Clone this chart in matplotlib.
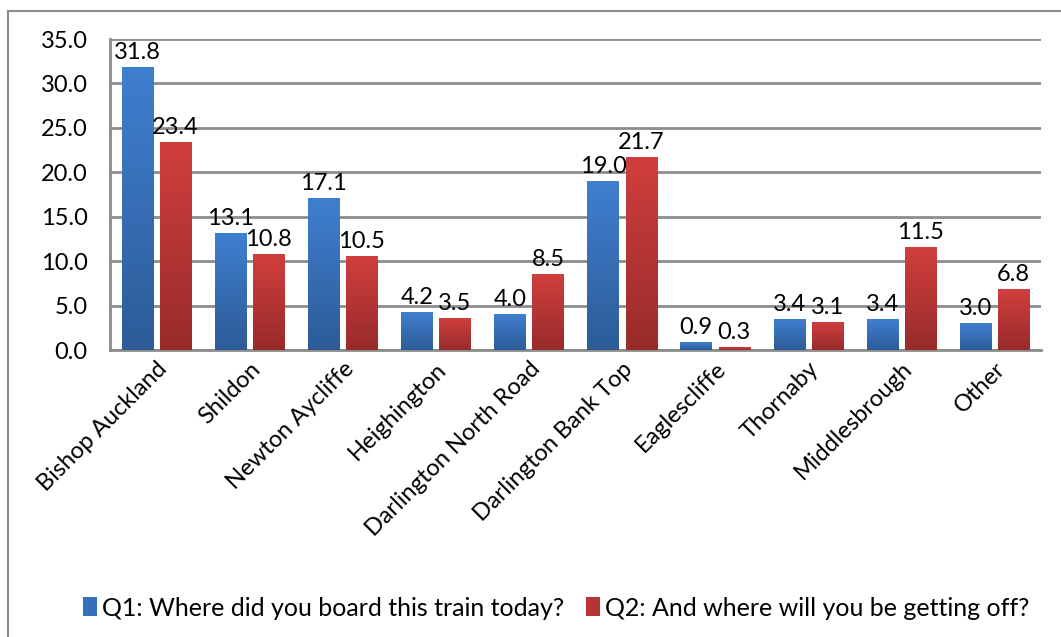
import numpy as np
import matplotlib.pyplot as plt
from matplotlib.colors import LinearSegmentedColormap
from matplotlib.patches import Patch
from matplotlib.lines import Line2D

plt.rcParams['font.family'] = ['Lato', 'DejaVu Sans']

stations = ["Bishop Auckland", "Shildon", "Newton Aycliffe", "Heighington",
            "Darlington North Road", "Darlington Bank Top", "Eaglescliffe",
            "Thornaby", "Middlesbrough", "Other"]
q1_board = [31.8, 13.1, 17.1, 4.2, 4.0, 19.0, 0.9, 3.4, 3.4, 3.0]
q2_alight = [23.4, 10.8, 10.5, 3.5, 8.5, 21.7, 0.3, 3.1, 11.5, 6.8]
series_names = ["Q1: Where did you board this train today?",
                "Q2: And where will you be getting off?"]

blue_cmap = LinearSegmentedColormap.from_list("b", ["#2d5c97", "#3f7fd0"])
red_cmap = LinearSegmentedColormap.from_list("r", ["#982b2b", "#d03f3d"])

fig = plt.figure(figsize=(10.61, 6.37), dpi=100)
ax = fig.add_axes([110 / 1061, 1 - 350 / 637, 931 / 1061, 311 / 637])

# outer chart frame (left and top edges visible)
fig.add_artist(Line2D([8 / 1061, 8 / 1061], [0, 1 - 11 / 637], color="#8c8c8c", lw=1.5,
                      transform=fig.transFigure))
fig.add_artist(Line2D([8 / 1061, 1], [1 - 11 / 637, 1 - 11 / 637], color="#8c8c8c", lw=1.5,
                      transform=fig.transFigure))

x = np.arange(len(stations))
width = 0.335
gap = 0.075
grad = np.linspace(0, 1, 256).reshape(-1, 1)


def gradient_bars(xs, vals, cmap):
    for xc, v in zip(xs, vals):
        ax.imshow(grad, extent=[xc - width / 2, xc + width / 2, 0, v], origin="lower",
                  cmap=cmap, aspect="auto", zorder=3)


xs1 = x - (width + gap) / 2
xs2 = x + (width + gap) / 2
gradient_bars(xs1, q1_board, blue_cmap)
gradient_bars(xs2, q2_alight, red_cmap)

for xc, v in zip(xs1, q1_board):
    ax.text(xc, v + 0.5, f"{v:.1f}", ha="center", va="bottom", fontsize=17, zorder=5)
for xc, v in zip(xs2, q2_alight):
    ax.text(xc, v + 0.5, f"{v:.1f}", ha="center", va="bottom", fontsize=17, zorder=5)

ax.set_xlim(-0.5, len(stations) - 0.5)
ax.set_ylim(0, 35)
ax.set_yticks(np.arange(0, 36, 5))
ax.set_yticklabels([f"{t:.1f}" for t in np.arange(0, 36, 5)], fontsize=17)
ax.yaxis.grid(True, color="#8c8c8c", lw=2, zorder=1)
ax.set_axisbelow(True)
ax.tick_params(axis="y", length=0, pad=16)
ax.tick_params(axis="x", length=0, pad=6)
ax.set_xticks(x)
ax.set_xticklabels(stations, rotation=45, ha="right", va="top", rotation_mode="anchor",
                   fontsize=17)
for side in ["right", "top"]:
    ax.spines[side].set_visible(False)
for side in ["left", "bottom"]:
    ax.spines[side].set_color("#8c8c8c")
    ax.spines[side].set_linewidth(2)

handles = [Patch(facecolor="#3670b8"), Patch(facecolor="#b83434")]
fig.legend(handles, series_names, loc="center", bbox_to_anchor=(556 / 1061, 1 - 608 / 637),
           ncol=2, frameon=False, fontsize=18, handlelength=0.55, handleheight=0.8,
           handletextpad=0.2, columnspacing=0.9)

fig.savefig("out.png", dpi=100)
